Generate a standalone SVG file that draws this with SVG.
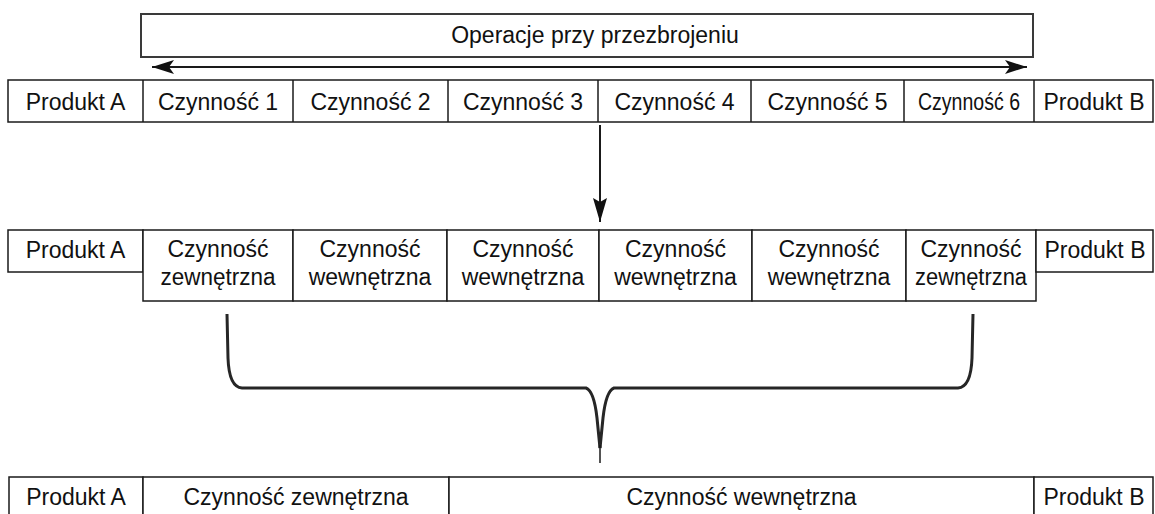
<svg xmlns="http://www.w3.org/2000/svg" width="1155" height="514" viewBox="0 0 1155 514">
<style>
.box{fill:#fff;stroke:#1a1a1a;stroke-width:1.5}
.hdr{fill:#fff;stroke:#3a3a3a;stroke-width:2}
.t{font-family:"Liberation Sans",Arial,sans-serif;font-size:23px;fill:#111;text-anchor:middle}
.ln{fill:none;stroke:#1a1a1a;stroke-width:2}
.br{fill:none;stroke:#262626;stroke-width:3;stroke-linejoin:round;stroke-linecap:butt}
</style>
<defs>
<marker id="ah" markerUnits="userSpaceOnUse" markerWidth="24" markerHeight="14" refX="22" refY="7" orient="auto-start-reverse">
<path d="M0,0 L22,7 L0,14 L5,7 Z" fill="#111"/>
</marker>
<marker id="ahv" markerUnits="userSpaceOnUse" markerWidth="26" markerHeight="14" refX="24" refY="7" orient="auto">
<path d="M0,0 L24,7 L0,14 L4,7 Z" fill="#111"/>
</marker>
</defs>

<g id="header">
<rect class="hdr" x="141" y="14" width="892" height="43"/>
<text class="t" x="595" y="43">Operacje przy przezbrojeniu</text>
</g>

<g id="row1">
<rect class="box" x="8" y="80" width="1145" height="42"/>
<g id="r1-produktA"><text class="t" x="75.5" y="110">Produkt A</text></g>
<g id="r1-c1"><line class="ln" x1="143" y1="80" x2="143" y2="122" style="stroke-width:1.5"/><text class="t" x="218" y="110">Czynność 1</text></g>
<g id="r1-c2"><line class="ln" x1="293" y1="80" x2="293" y2="122" style="stroke-width:1.5"/><text class="t" x="370.5" y="110">Czynność 2</text></g>
<g id="r1-c3"><line class="ln" x1="448" y1="80" x2="448" y2="122" style="stroke-width:1.5"/><text class="t" x="523" y="110">Czynność 3</text></g>
<g id="r1-c4"><line class="ln" x1="598" y1="80" x2="598" y2="122" style="stroke-width:1.5"/><text class="t" x="674.5" y="110">Czynność 4</text></g>
<g id="r1-c5"><line class="ln" x1="751" y1="80" x2="751" y2="122" style="stroke-width:1.5"/><text class="t" x="827.5" y="110">Czynność 5</text></g>
<g id="r1-c6"><line class="ln" x1="904" y1="80" x2="904" y2="122" style="stroke-width:1.5"/><text class="t" x="969" y="110" textLength="102" lengthAdjust="spacingAndGlyphs">Czynność 6</text></g>
<g id="r1-produktB"><line class="ln" x1="1034" y1="80" x2="1034" y2="122" style="stroke-width:1.5"/><text class="t" x="1094" y="110">Produkt B</text></g>
</g>

<g id="row2">
<g id="r2-produktA"><rect class="box" x="8" y="230" width="135" height="42"/><text class="t" x="75.5" y="258">Produkt A</text></g>
<g id="r2-c1"><rect class="box" x="143" y="230" width="150" height="71"/><text class="t" x="218" y="257">Czynność</text><text class="t" x="218" y="285" textLength="115" lengthAdjust="spacingAndGlyphs">zewnętrzna</text></g>
<g id="r2-c2"><rect class="box" x="293" y="230" width="154" height="71"/><text class="t" x="370" y="257">Czynność</text><text class="t" x="370" y="285">wewnętrzna</text></g>
<g id="r2-c3"><rect class="box" x="447" y="230" width="152" height="71"/><text class="t" x="523" y="257">Czynność</text><text class="t" x="523" y="285">wewnętrzna</text></g>
<g id="r2-c4"><rect class="box" x="599" y="230" width="153" height="71"/><text class="t" x="675.5" y="257">Czynność</text><text class="t" x="675.5" y="285">wewnętrzna</text></g>
<g id="r2-c5"><rect class="box" x="752" y="230" width="154" height="71"/><text class="t" x="829" y="257">Czynność</text><text class="t" x="829" y="285">wewnętrzna</text></g>
<g id="r2-c6"><rect class="box" x="906" y="230" width="130" height="71"/><text class="t" x="971" y="257">Czynność</text><text class="t" x="971" y="285" textLength="112" lengthAdjust="spacingAndGlyphs">zewnętrzna</text></g>
<g id="r2-produktB"><rect class="box" x="1036" y="230" width="117" height="42"/><text class="t" x="1095" y="258">Produkt B</text></g>
</g>

<g id="row3">
<g id="r3-produktA"><rect class="box" x="9" y="477" width="134" height="45"/><text class="t" x="76" y="505">Produkt A</text></g>
<g id="r3-zew"><rect class="box" x="143" y="477" width="306" height="45"/><text class="t" x="296" y="505">Czynność zewnętrzna</text></g>
<g id="r3-wew"><rect class="box" x="449" y="477" width="585" height="45"/><text class="t" x="741.5" y="505">Czynność wewnętrzna</text></g>
<g id="r3-produktB"><rect class="box" x="1034" y="477" width="119" height="45"/><text class="t" x="1094" y="505">Produkt B</text></g>
</g>

<g id="connectors">
<line class="ln" x1="152" y1="67" x2="1027" y2="67" marker-start="url(#ah)" marker-end="url(#ah)"/>
<line class="ln" x1="600" y1="125" x2="600" y2="222" marker-end="url(#ahv)"/>
<path class="br" d="M227,314 L228,358 Q229,387 242,388 L586,388 Q594,391 597,418 L600,448"/>
<path class="br" d="M973,314 L972,358 Q971,387 958,388 L614,388 Q606,391 603,418 L600,448"/>
<line class="ln" x1="600" y1="445" x2="600" y2="463" style="stroke-width:1.5"/>
</g>
</svg>
